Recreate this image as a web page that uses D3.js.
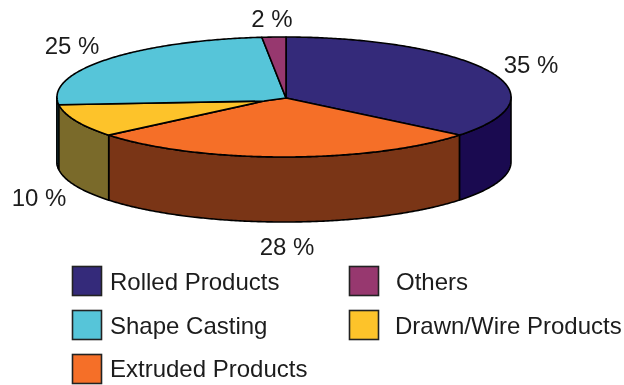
<!DOCTYPE html>
<html><head><meta charset="utf-8">
<script src="https://cdn.jsdelivr.net/npm/d3@7"></script>
<style>html,body{margin:0;background:#fff}svg{display:block;filter:blur(0.35px)}text{font-family:"Liberation Sans",Arial,sans-serif;fill:#1c1c1c}</style>
</head><body><svg id="c" width="624" height="385"></svg>
<script>
const categories=["Rolled Products","Extruded Products","Drawn/Wire Products","Shape Casting","Others"];
const percentLabels=["35 %","28 %","10 %","25 %","2 %"];
// visible share of the ellipse each slice occupies
const visibleShares=[35.8,28.1,8.9,25.5,1.7];
const topColors=["#342a7a","#f56f28","#fdc32a","#56c5d9","#97386f"];
const sideColors=["#1a0a50","#7a3516","#7a6a2a","#3a8a98","#6a2850"];
const labelX=[531,287,39,72,272];
const labelY=[73,255,206,54,27];
const legendOrder=[0,3,1,4,2];
const legendCol=[0,0,0,1,1], legendRow=[0,1,2,0,1];
const legendTextX=[110,396,395], legendBaselines=[290,334,377];

const svg=d3.select("#c");
const cx=284,cy=97,rx=227,ry=60,depth=65,apex=[286,98],yellowTip=[264,101],startAngle=0.009;
const arcs=d3.pie().sort(null).value(d=>d).startAngle(startAngle).endAngle(startAngle+2*Math.PI)(visibleShares);
const rim=a=>[cx+rx*Math.sin(a),cy-ry*Math.cos(a)];
const line=d3.line();
const samples=(a,b)=>{const n=Math.max(2,Math.ceil(Math.abs(b-a)/0.01));return d3.range(n+1).map(i=>a+(b-a)*i/n);};
const stroke={stroke:"#000","stroke-width":1.6,"stroke-linejoin":"round"};
const apply=(s)=>{Object.entries(stroke).forEach(([k,v])=>s.attr(k,v));return s;};

// side wall: only the front half of the rim is visible
arcs.forEach((d,i)=>{
  const a=Math.max(d.startAngle,Math.PI/2), b=Math.min(d.endAngle,3*Math.PI/2);
  let end=b;
  if(i===2) end=3*Math.PI/2;
  if(a>=end) return;
  const top=samples(a,end).map(rim);
  const bottom=top.slice().reverse().map(p=>[p[0],p[1]+depth]);
  apply(svg.append("path").attr("d",line(top.concat(bottom))+"Z").attr("fill",sideColors[i]));
});
// top faces; the yellow slice's tip stops short of the centre in the original
arcs.forEach((d,i)=>{
  const r=samples(d.startAngle,d.endAngle).map(rim);
  let pts=[apex].concat(r);
  if(i===1) pts=pts.concat([yellowTip]);
  if(i===2) pts=[yellowTip].concat(r);
  if(i===3) pts=[apex,yellowTip].concat(r);
  apply(svg.append("path").attr("d",line(pts)+"Z").attr("fill",topColors[i]));
});
// percent labels
svg.selectAll("text.pct").data(percentLabels).join("text").attr("class","pct")
  .attr("x",(d,i)=>labelX[i]).attr("y",(d,i)=>labelY[i]).attr("text-anchor","middle")
  .attr("font-size",24).text(d=>d);
// legend
legendOrder.forEach((c,k)=>{
  const col=legendCol[k],row=legendRow[k];
  const y=[266,310,354][row], x=[72,349][col];
  svg.append("rect").attr("x",x+0.5).attr("y",y+0.5).attr("width",29).attr("height",29)
    .attr("fill",topColors[c]).attr("stroke","#222").attr("stroke-width",1.6);
  const tx=col===0?legendTextX[0]:(c===4?legendTextX[1]:legendTextX[2]);
  svg.append("text").attr("x",tx).attr("y",legendBaselines[row]).attr("font-size",24).text(categories[c]);
});
</script></body></html>
